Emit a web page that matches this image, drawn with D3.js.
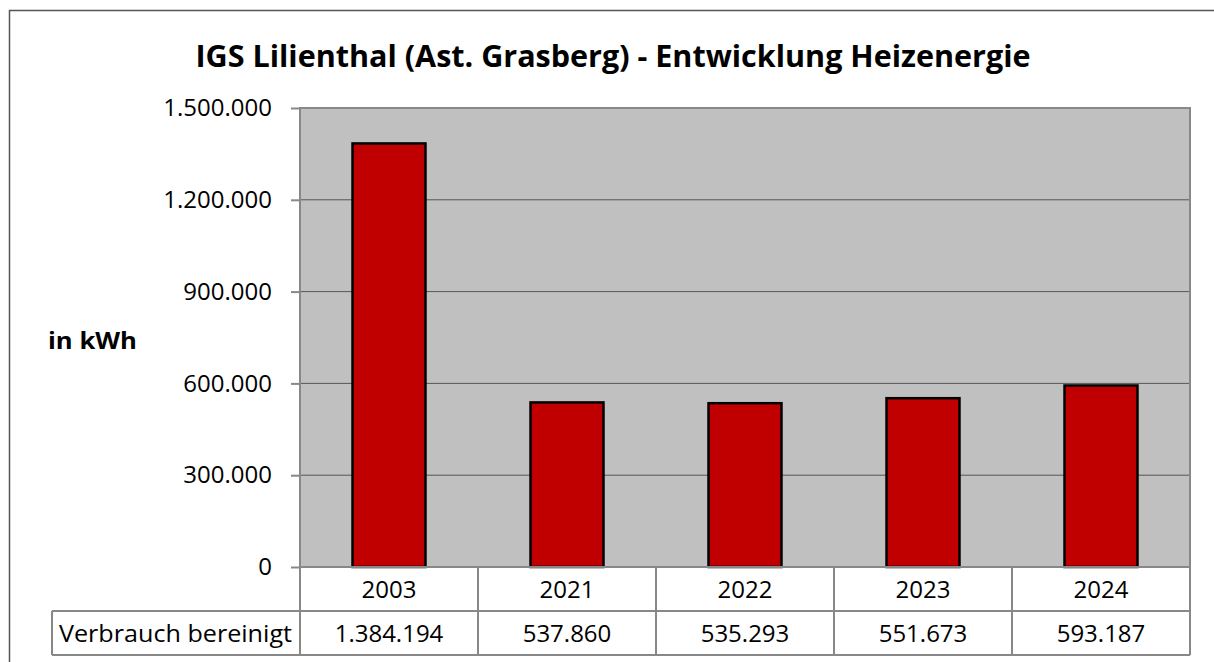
<!DOCTYPE html>
<html>
<head>
<meta charset="utf-8">
<script src="https://cdn.jsdelivr.net/npm/d3@7"></script>
<style>
  body { margin: 0; background: #fff; }
  svg { display: block; font-family: "Open Sans", "Noto Sans", sans-serif; }
</style>
</head>
<body>
<svg id="chart" width="1214" height="662"></svg>
<script>
const years = ['2003', '2021', '2022', '2023', '2024'];
const verbrauch = [1384194, 537860, 535293, 551673, 593187];
const yTicks = [0, 300000, 600000, 900000, 1200000, 1500000];
const rowLabel = 'Verbrauch bereinigt';
const title = 'IGS Lilienthal (Ast. Grasberg) - Entwicklung Heizenergie';

const fmt = n => d3.format(',')(n).replace(/,/g, '.');

const svg = d3.select('#chart');
const plot = {left: 300, right: 1190, top: 108, bottom: 567};
const rowH = 44;

// outer frame
svg.append('rect')
  .attr('x', 9.5).attr('y', 10.5)
  .attr('width', 1300).attr('height', 700)
  .attr('fill', '#fff').attr('stroke', '#555').attr('stroke-width', 1.5);

svg.append('text')
  .attr('x', 613).attr('y', 67)
  .attr('text-anchor', 'middle')
  .attr('font-size', 30).attr('font-weight', 'bold')
  .attr('textLength', 835).attr('lengthAdjust', 'spacingAndGlyphs')
  .text(title);

const x = d3.scaleBand().domain(years).range([plot.left, plot.right]).paddingInner(0).paddingOuter(0);
const y = d3.scaleLinear().domain([0, 1500000]).range([plot.bottom, plot.top]);

// plot area
svg.append('rect')
  .attr('x', plot.left).attr('y', plot.top)
  .attr('width', plot.right - plot.left).attr('height', plot.bottom - plot.top)
  .attr('fill', '#c0c0c0');

// gridlines
svg.append('g').selectAll('line').data(yTicks.slice(1))
  .join('line')
  .attr('x1', plot.left).attr('x2', plot.right)
  .attr('y1', d => y(d)).attr('y2', d => y(d))
  .attr('stroke', '#555').attr('stroke-width', 1);

// y axis
const yAxis = svg.append('g')
  .attr('transform', `translate(${plot.left},0)`)
  .call(d3.axisLeft(y).tickValues(yTicks).tickFormat(fmt).tickSize(9).tickPadding(19));
yAxis.select('.domain').remove();
yAxis.selectAll('line').attr('stroke', '#888').attr('stroke-width', 2);
yAxis.selectAll('text').attr('font-size', 24).attr('fill', '#000')
  .attr('font-family', '"Open Sans", "Noto Sans", sans-serif');

svg.append('text')
  .attr('x', 48).attr('y', 349)
  .attr('font-size', 24).attr('font-weight', 'bold')
  .attr('textLength', 89).attr('lengthAdjust', 'spacingAndGlyphs')
  .text('in kWh');

// bars
const bw = x.bandwidth() * 0.41;
svg.append('g').selectAll('rect').data(verbrauch)
  .join('rect')
  .attr('x', (d, i) => x(years[i]) + (x.bandwidth() - bw) / 2)
  .attr('y', d => y(d))
  .attr('width', bw)
  .attr('height', d => y(0) - y(d))
  .attr('fill', '#c00000')
  .attr('stroke', '#000').attr('stroke-width', 2.5);

// plot border
svg.append('rect')
  .attr('x', plot.left).attr('y', plot.top)
  .attr('width', plot.right - plot.left).attr('height', plot.bottom - plot.top)
  .attr('fill', 'none').attr('stroke', '#888').attr('stroke-width', 2);

// data table
const tbl = svg.append('g').attr('stroke', '#888').attr('stroke-width', 2);
const tTop = plot.bottom, tBottom = plot.bottom + 2 * rowH;
tbl.append('line').attr('x1', 52).attr('x2', plot.right).attr('y1', tTop + rowH).attr('y2', tTop + rowH);
tbl.append('line').attr('x1', 52).attr('x2', plot.right).attr('y1', tBottom).attr('y2', tBottom);
tbl.append('line').attr('x1', 52).attr('x2', 52).attr('y1', tTop + rowH).attr('y2', tBottom);
tbl.selectAll('line.v').data(years.concat(['end']))
  .join('line').attr('class', 'v')
  .attr('x1', (d, i) => plot.left + i * x.bandwidth())
  .attr('x2', (d, i) => plot.left + i * x.bandwidth())
  .attr('y1', tTop).attr('y2', tBottom);

svg.append('g').selectAll('text').data(years)
  .join('text')
  .attr('x', d => x(d) + x.bandwidth() / 2)
  .attr('y', tTop + 31)
  .attr('text-anchor', 'middle').attr('font-size', 24)
  .text(d => d);

svg.append('g').selectAll('text').data(verbrauch)
  .join('text')
  .attr('x', (d, i) => x(years[i]) + x.bandwidth() / 2)
  .attr('y', tTop + rowH + 31)
  .attr('text-anchor', 'middle').attr('font-size', 24)
  .text(d => fmt(d));

svg.append('text')
  .attr('x', 59).attr('y', tTop + rowH + 31)
  .attr('font-size', 24)
  .attr('textLength', 233).attr('lengthAdjust', 'spacingAndGlyphs')
  .text(rowLabel);
</script>
</body>
</html>
